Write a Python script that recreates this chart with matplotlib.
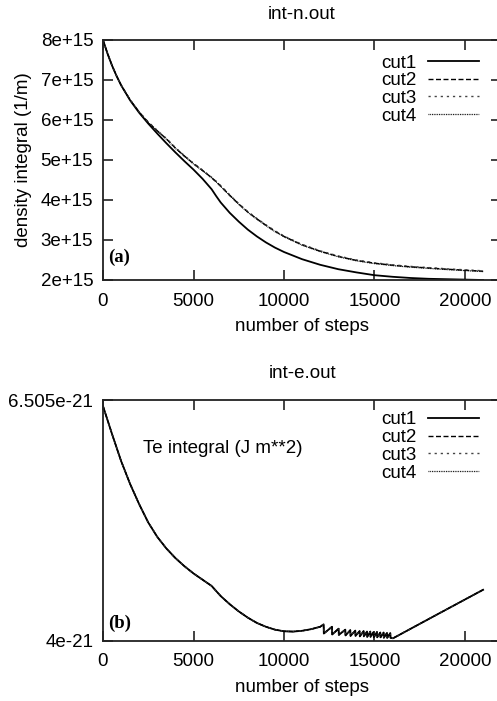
import matplotlib
matplotlib.use("Agg")
import matplotlib.pyplot as plt

plt.rcParams['font.family'] = ['Liberation Sans', 'DejaVu Sans']

# ---------------- data: panel (a) density integral ----------------
n_steps = [0, 250, 500, 750, 1000, 1500, 2000, 2500, 3000, 3500, 4000, 4500,
           5000, 5500, 6000, 6250, 6500, 7000, 7500, 8000, 8500, 9000, 9500,
           10000, 11000, 12000, 13000, 14000, 15000, 16000, 17000, 18000,
           19000, 20000, 21000]
n_cut1 = [8.00, 7.66, 7.36, 7.10, 6.87, 6.49, 6.18, 5.91, 5.66, 5.42, 5.19, 4.97,
          4.76, 4.53, 4.27, 4.10, 3.94, 3.68, 3.46, 3.26, 3.09, 2.94, 2.81,
          2.70, 2.52, 2.38, 2.27, 2.19, 2.12, 2.08, 2.05, 2.03,
          2.02, 2.01, 2.00]
n_cut2 = [8.00, 7.66, 7.36, 7.10, 6.87, 6.50, 6.20, 5.94, 5.73, 5.53, 5.30, 5.10,
          4.91, 4.74, 4.56, 4.46, 4.35, 4.12, 3.90, 3.70, 3.53, 3.37, 3.22,
          3.09, 2.88, 2.72, 2.59, 2.49, 2.42, 2.37, 2.33, 2.30,
          2.27, 2.245, 2.22]
n_cut3 = [8.00, 7.66, 7.36, 7.10, 6.87, 6.50, 6.20, 5.95, 5.74, 5.54, 5.31, 5.11,
          4.92, 4.75, 4.57, 4.47, 4.36, 4.13, 3.91, 3.71, 3.54, 3.38, 3.23,
          3.10, 2.89, 2.73, 2.60, 2.50, 2.43, 2.38, 2.34, 2.31,
          2.28, 2.255, 2.23]
n_cut4 = [8.00, 7.66, 7.36, 7.10, 6.87, 6.50, 6.19, 5.94, 5.72, 5.52, 5.29, 5.09,
          4.90, 4.73, 4.55, 4.45, 4.34, 4.11, 3.89, 3.69, 3.52, 3.36, 3.21,
          3.08, 2.87, 2.71, 2.58, 2.48, 2.41, 2.36, 2.32, 2.29,
          2.26, 2.235, 2.21]
n_scale = 1e15

# ---------------- data: panel (b) Te integral ----------------
e_steps = [0, 500, 1000, 1500, 2000, 2500, 3000, 3500, 4000, 4500, 5000, 5500,
           6000, 6500, 7000, 7500, 8000, 8500, 9000, 9500, 10000, 10500, 11000,
           11500, 12000, 12188,
           12200, 12652, 12664, 13017, 13029, 13387, 13399, 13663, 13675,
           13939, 13951, 14177, 14189, 14398, 14410, 14586, 14598, 14768,
           14780, 14950, 14962, 15138, 15150, 15320, 15332, 15503, 15515,
           15690, 15702, 15873, 15885, 16022, 18500, 21000]
e_cut1 = [6.442, 6.15, 5.87, 5.63, 5.42, 5.23, 5.08, 4.96, 4.86, 4.775, 4.70, 4.635,
          4.57, 4.465, 4.38, 4.305, 4.24, 4.185, 4.145, 4.115, 4.098, 4.095, 4.103,
          4.12, 4.145, 4.17,
          4.075, 4.145, 4.065, 4.125, 4.06, 4.115, 4.055, 4.11, 4.05,
          4.105, 4.05, 4.10, 4.045, 4.10, 4.045, 4.095, 4.04, 4.095,
          4.04, 4.09, 4.035, 4.09, 4.035, 4.085, 4.035, 4.085, 4.03,
          4.08, 4.03, 4.08, 4.03, 4.025, 4.277, 4.53]
e_cut2 = list(e_cut1)
e_cut3 = list(e_cut1)
e_cut4 = list(e_cut1)
e_scale = 1e-21

labels = ['cut1', 'cut2', 'cut3', 'cut4']
n_ticks = [2e15, 3e15, 4e15, 5e15, 6e15, 7e15, 8e15]
n_ticklabels = ['2e+15', '3e+15', '4e+15', '5e+15', '6e+15', '7e+15', '8e+15']
e_ticks = [4e-21, 6.505e-21]
e_ticklabels = ['4e-21', '6.505e-21']
x_ticks = [0, 5000, 10000, 15000, 20000]

styles = [dict(linestyle='-', lw=1.3),
          dict(linestyle=(0, (3.6, 1.8)), lw=1.0),
          dict(linestyle=(0, (1.6, 2.8)), lw=1.0, color='#444444'),
          dict(linestyle=(0, (0.7, 0.7)), lw=0.9)]

FS = 13.5
fig = plt.figure(figsize=(4.97, 7.01), dpi=100)
W = 398.2 / 497
ax1 = fig.add_axes([103 / 497, 1 - 280 / 701, W, 240 / 701])
ax2 = fig.add_axes([103 / 497, 1 - 640.7 / 701, W, 240.7 / 701])


def style_axes(ax):
    for s in ax.spines.values():
        s.set_linewidth(1.3)
        s.set_color('#222222')
    ax.tick_params(direction='in', length=7, width=1.2, top=True, right=True,
                   labelsize=FS, pad=7, color='#222222')
    ax.tick_params(axis='x', pad=9)
    ax.set_xlim(0, 22000)
    ax.set_xticks(x_ticks)
    ax.set_xlabel('number of steps', fontsize=FS, labelpad=6)


series_n = [n_cut1, n_cut2, n_cut3, n_cut4]
for vals, lab, st in zip(series_n, labels, styles):
    kw = dict(color='black')
    kw.update(st)
    ax1.plot(n_steps, [v * n_scale for v in vals], label=lab, **kw)
style_axes(ax1)
ax1.set_ylim(2e15, 8e15)
ax1.set_yticks(n_ticks)
ax1.set_yticklabels(n_ticklabels)
ax1.set_ylabel('density integral (1/m)', fontsize=FS, labelpad=6)
ax1.set_title('int-n.out', fontsize=FS, pad=15)
ax1.text(0.012, 0.096, '(a)', transform=ax1.transAxes, fontsize=FS,
         fontweight='bold', family='Liberation Serif', va='center', ha='left')

series_e = [e_cut1, e_cut2, e_cut3, e_cut4]
for vals, lab, st in zip(series_e, labels, styles):
    kw = dict(color='black')
    kw.update(st)
    ax2.plot(e_steps, [v * e_scale for v in vals], label=lab, **kw)
style_axes(ax2)
ax2.set_ylim(4e-21, 6.505e-21)
ax2.set_yticks(e_ticks)
ax2.set_yticklabels(e_ticklabels)
ax2.set_title('int-e.out', fontsize=FS, pad=16)
ax2.text(0.012, 0.073, '(b)', transform=ax2.transAxes, fontsize=FS,
         fontweight='bold', family='Liberation Serif', va='center', ha='left')
ax2.text(0.10, 0.80, 'Te integral (J m**2)', transform=ax2.transAxes,
         fontsize=FS, va='center', ha='left')

for ax, ytop in ((ax1, 0.94), (ax2, 0.953)):
    ax.legend(loc='upper right', bbox_to_anchor=(0.943, ytop), frameon=False,
              markerfirst=False, fontsize=FS, handlelength=2.7,
              handletextpad=0.6, labelspacing=0.03, borderpad=0,
              borderaxespad=0)

fig.savefig('out.png', dpi=100)
